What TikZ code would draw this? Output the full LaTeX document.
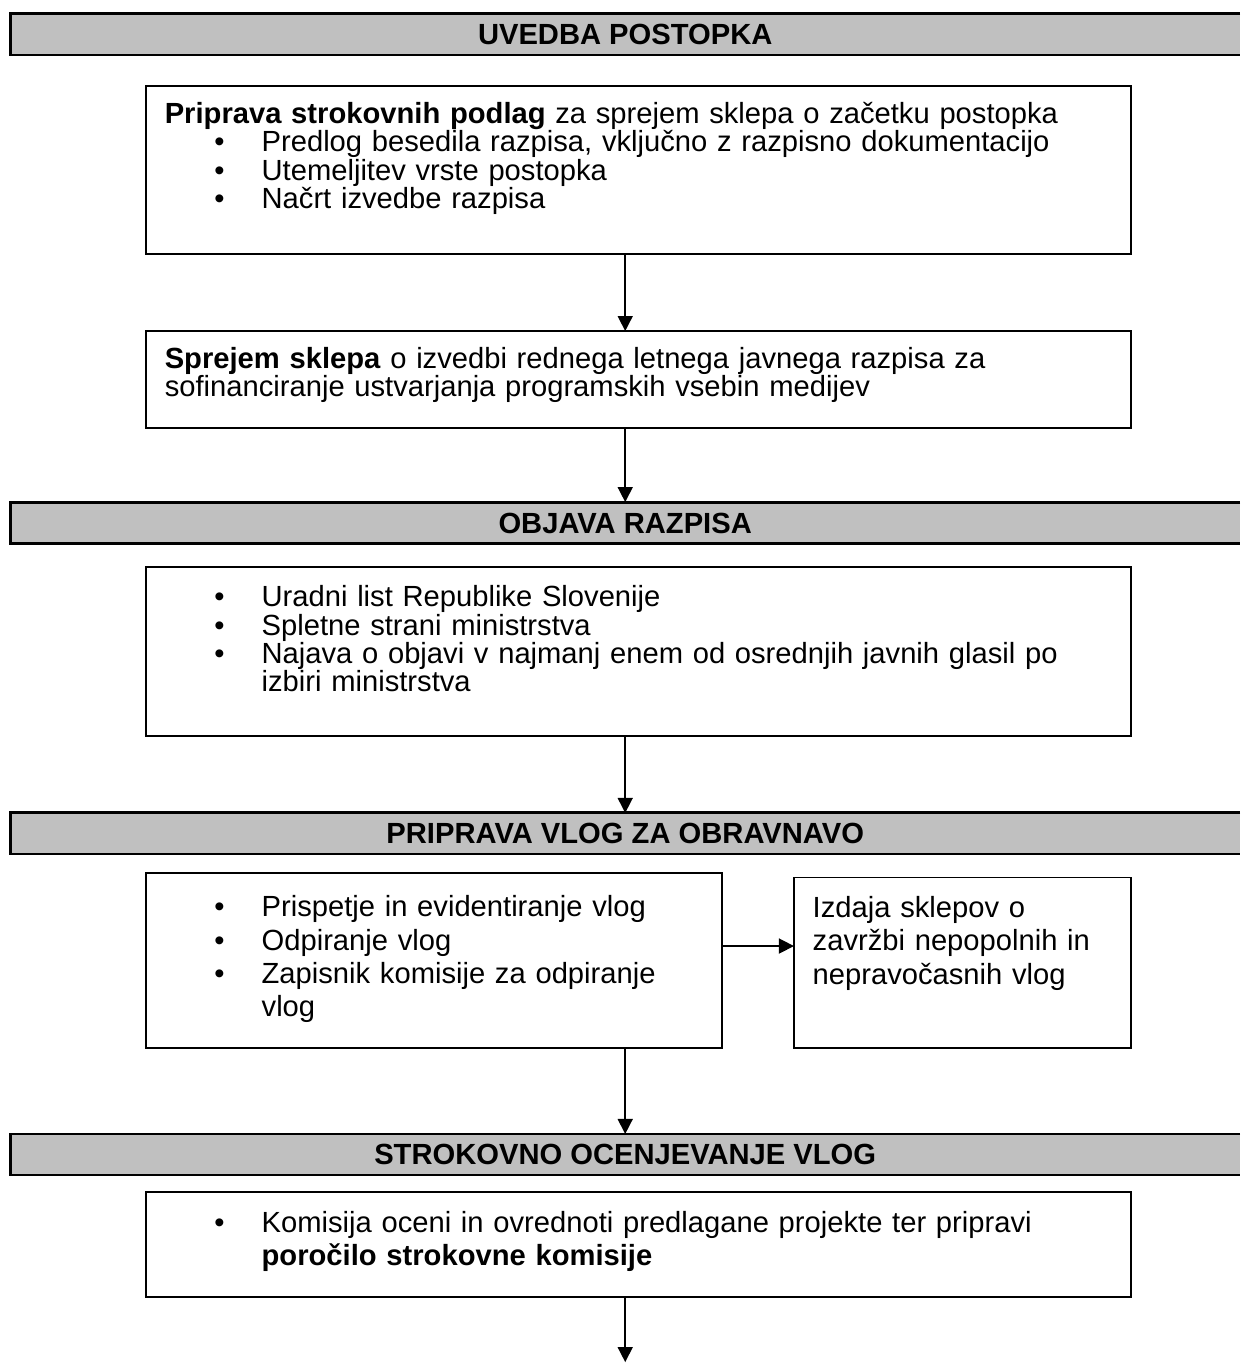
\documentclass[tikz,border=0pt]{standalone}
\usepackage{fontspec}
\setmainfont{Liberation Sans}
\usetikzlibrary{arrows.meta,positioning}
\definecolor{phasegray}{RGB}{192,192,192}
\newcommand{\bul}[1]{\noindent\hspace*{23.8pt}\makebox[22.7pt][l]{\textbullet}%
    \parbox[t]{\dimexpr\linewidth-46.5pt\relax}{\raggedright#1}\par}
\tikzset{
    every picture/.style={
        line width=.75pt,>={Triangle[length=7.2pt,width=7.2pt]},outer sep=0pt,
        phase/.style={fill=phasegray,minimum width=590.2pt,minimum height=19.7pt,
            inner sep=0pt,text height=10pt,text depth=0pt,font=\fontsize{14}{16}\selectfont\bfseries},
        txtbox/.style={draw,line width=.9pt,inner xsep=9pt,inner ysep=0pt,align=left,
            text height=18pt,font=\fontsize{14}{13.6}\selectfont},
        txtbox2/.style={txtbox,text height=19.2pt,font=\fontsize{14}{16}\selectfont}
    }
}

\begin{document}
\begin{tikzpicture}
    \useasboundingbox (0,0) rectangle (595.2pt,-654.72pt);
    \node[phase]  (h1) at (300.1pt,-16.55pt) {UVEDBA POSTOPKA};
    \node[txtbox,text width=454.8pt,text depth=62.6pt] (b1) [below=14.9pt of h1,xshift=6.4pt]
        {\textbf{Priprava strokovnih podlag} za sprejem sklepa o začetku postopka\par
         \bul{Predlog besedila razpisa, vključno z razpisno dokumentacijo}
         \bul{Utemeljitev vrste postopka}
         \bul{Načrt izvedbe razpisa}};
    \node[txtbox,text width=454.8pt,text depth=28.6pt] (b2) [below=37pt of b1]
        {\textbf{Sprejem sklepa} o izvedbi rednega letnega javnega razpisa za\\
         sofinanciranje ustvarjanja programskih vsebin medijev};
    \node[phase]  (h2) [below=35.5pt of b2,xshift=-6.4pt] {OBJAVA RAZPISA};
    \node[txtbox,text width=454.8pt,text height=19pt,text depth=62.1pt] (b3) [below=11.5pt of h2,xshift=6.4pt]
        {\bul{Uradni list Republike Slovenije}
         \bul{Spletne strani ministrstva}
         \bul{Najava o objavi v najmanj enem od osrednjih javnih glasil po\\izbiri ministrstva}};
    \node[phase]  (h3) [below=36.9pt of b3,xshift=-6.4pt] {PRIPRAVA VLOG ZA OBRAVNAVO};
    \node[txtbox2,text width=258.5pt,text height=21pt,text depth=63pt] (b4) [below=65.7pt of b3.south west,anchor=north west]
        {\bul{Prispetje in evidentiranje vlog}
         \bul{Odpiranje vlog}
         \bul{Zapisnik komisije za odpiranje\\vlog}};
    \node[txtbox2,text width=143.8pt,text depth=62.6pt] (b5) [right=34.5pt of b4.north east,anchor=north west,yshift=-2.2pt]
        {Izdaja sklepov o\\zavržbi nepopolnih in\\nepravočasnih vlog};
    \node[phase]  (h4) [below=134.4pt of h3] {STROKOVNO OCENJEVANJE VLOG};
    \node[txtbox2,text width=454.8pt,text depth=31.2pt] (b6) [below=8.2pt of h4,xshift=6.4pt]
        {\bul{Komisija oceni in ovrednoti predlagane projekte ter pripravi\\
         \textbf{poročilo strokovne komisije}}};
    % the phase bars run off the page on the right
    \foreach \h in {h1,h2,h3,h4}
        \draw[line width=1.4pt] (\h.north east) -- (\h.north west) -- (\h.south west) -- (\h.south east);
    \coordinate[below=35.1pt of b4.north east] (ra);
    \coordinate[below=31.2pt of b6.south] (fin);
    \path[->] (b1.south -| h1) edge (b2.north -| h1)
              (b2.south -| h1) edge (h2)
              (b3.south -| h1) edge (h3)
              (ra)             edge (ra -| b5.west)
              (b4.south -| h1) edge (h4)
              (b6.south -| h1) edge (fin -| h1)
              ;
\end{tikzpicture}
\end{document}
